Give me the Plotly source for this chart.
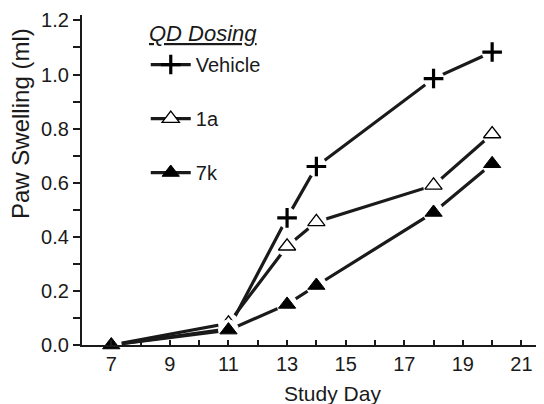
import plotly.graph_objects as go

days = [7, 11, 13, 14, 18, 20]
vehicle = [0.0, 0.06, 0.47, 0.66, 0.985, 1.083]
cmp_1a = [0.0, 0.08, 0.365, 0.455, 0.59, 0.78]
cmp_7k = [0.0, 0.055, 0.15, 0.22, 0.49, 0.67]
series_names = ["Vehicle", "1a", "7k"]
x_tickvals = list(range(7, 22))
x_ticktext = [str(d) if d % 2 == 1 else "" for d in x_tickvals]
y_tickvals = [0.0, 0.1, 0.2, 0.3, 0.4, 0.5, 0.6, 0.7, 0.8, 0.9, 1.0, 1.1, 1.2]
y_ticktext = ["0.0", "", "0.2", "", "0.4", "", "0.6", "", "0.8", "", "1.0", "", "1.2"]

FONT = "Liberation Sans, Arial, sans-serif"
styles = [
    dict(symbol="cross-thin-open", size=14, color="black", line=dict(color="black", width=3.2)),
    dict(symbol="triangle-up", size=15, color="white", line=dict(color="black", width=1.3)),
    dict(symbol="triangle-up", size=15, color="black", line=dict(color="black", width=1)),
]

fig = go.Figure()
for name, vals, st in zip(series_names, [vehicle, cmp_1a, cmp_7k], styles):
    fig.add_trace(go.Scatter(x=days, y=vals, mode="lines+markers", name=name,
                             legendgroup=name,
                             line=dict(color="#1a1a1a", width=3.2),
                             marker=st, cliponaxis=False))
    fig.add_trace(go.Scatter(x=days, y=vals, mode="markers", showlegend=False,
                             hoverinfo="skip", legendgroup=name,
                             marker=dict(symbol="circle", size=21, color="white"),
                             cliponaxis=False))
    fig.add_trace(go.Scatter(x=days, y=vals, mode="markers", showlegend=False,
                             legendgroup=name, marker=st, cliponaxis=False))

# page body adds an 8px offset; margins compensate so the plot area lands at the
# reference position (x 82..544, y 15..345 in the screenshot)
L, T, W, H = 74, 7, 536, 396
PW, PH = W - L, 330

fig.update_layout(
    width=W, height=H,
    margin=dict(l=L, r=0, t=T, b=H - T - PH, autoexpand=False),
    paper_bgcolor="white", plot_bgcolor="white",
    font=dict(family=FONT, size=20, color="#1a1a1a"),
    showlegend=True,
    legend=dict(x=0.138, y=0.909, xanchor="left", yanchor="top",
                bgcolor="rgba(0,0,0,0)", tracegroupgap=25,
                font=dict(size=20), itemwidth=40),
    annotations=[
        dict(text="<i><u>QD Dosing</u></i>", xref="paper", yref="paper",
             x=(147 - 82) / PW, y=(345 - 33) / PH, xanchor="left",
             yanchor="middle", showarrow=False, font=dict(size=22)),
        dict(text="Paw Swelling (ml)", xref="paper", yref="paper",
             x=(12 - L) / PW, y=(T + PH - 116) / PH, textangle=-90,
             xanchor="center", yanchor="middle", showarrow=False,
             font=dict(size=24)),
        dict(text="Study Day", xref="paper", yref="paper",
             x=(324 - L) / PW, y=(T + PH - 385) / PH,
             xanchor="center", yanchor="middle", showarrow=False,
             font=dict(size=21)),
    ],
)
fig.update_xaxes(range=[6, 21.77], tickvals=x_tickvals, ticktext=x_ticktext,
                 ticks="inside", ticklen=5, tickwidth=2, tickcolor="#1a1a1a",
                 showline=True, linecolor="#1a1a1a", linewidth=2.2,
                 showgrid=False, zeroline=False, automargin=False,
                 tickfont=dict(size=20))
fig.update_yaxes(range=[0, 1.22], tickvals=y_tickvals, ticktext=y_ticktext,
                 ticks="outside", ticklen=7, tickwidth=2, tickcolor="#1a1a1a",
                 showline=True, linecolor="#1a1a1a", linewidth=2.2,
                 showgrid=False, zeroline=False, automargin=False,
                 tickfont=dict(size=20))

fig.write_html("out.html")
